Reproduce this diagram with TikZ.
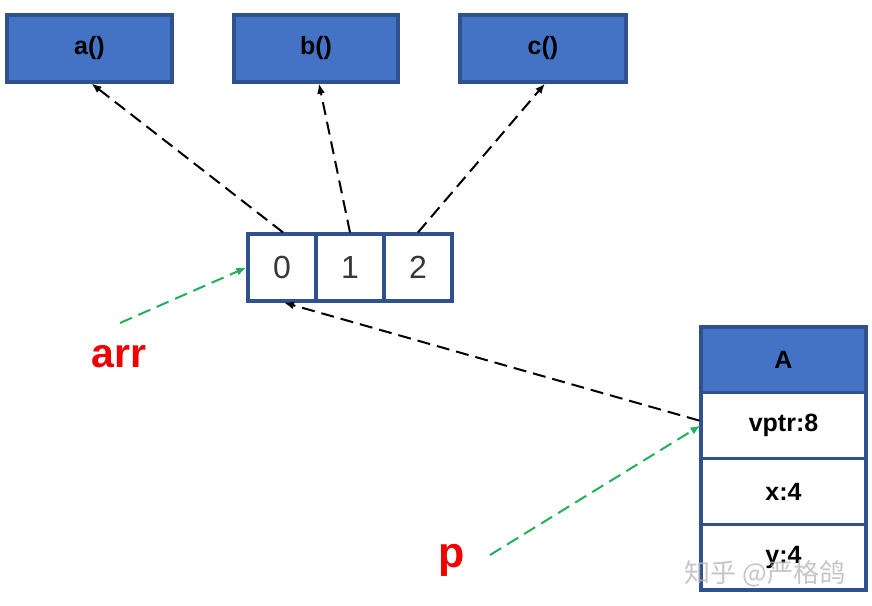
\documentclass[tikz,border=0pt]{standalone}
\usepackage{fontspec}
\setmainfont{Liberation Sans}
\newfontfamily\cjkfont{Noto Sans CJK SC}
\usetikzlibrary{arrows.meta}
\definecolor{boxblue}{HTML}{4472C4}
\definecolor{boxedge}{HTML}{2F528F}
\definecolor{ptrgreen}{HTML}{1FB25A}
\definecolor{labred}{HTML}{F00000}
\begin{document}
\begin{tikzpicture}[x=1pt,y=-1pt,
  funcbox/.style={draw=boxedge,fill=boxblue,line width=3.2pt,minimum width=165pt,minimum height=67pt,inner sep=0pt,
    font=\fontsize{25}{29}\selectfont\bfseries},
  cellbox/.style={draw=boxedge,fill=white,line width=3.2pt,minimum width=68pt,minimum height=67pt,inner sep=0pt,
    font=\fontsize{32}{36}\selectfont,text=black!78},
  rowbox/.style={draw=boxedge,fill=white,line width=3.2pt,minimum width=165pt,minimum height=65.75pt,inner sep=0pt,
    font=\fontsize{25}{29}\selectfont\bfseries},
  headbox/.style={rowbox,fill=boxblue},
  blackptr/.style={draw=black,line width=2pt,dash pattern=on 13pt off 7pt,-{Latex[length=10pt,width=8pt]}},
  greenptr/.style={draw=ptrgreen,line width=2pt,dash pattern=on 13pt off 7pt,-{Latex[length=10pt,width=8pt]}},
  redlabel/.style={text=labred,font=\fontsize{41}{45}\selectfont\bfseries}]
\useasboundingbox (0,0) rectangle (872,605);
\fill[white] (0,0) rectangle (872,605);
% function boxes
\node[funcbox] (fa) at (89.5,48.5) {a()};
\node[funcbox,minimum width=164pt] (fb) at (316,48.5) {b()};
\node[funcbox,minimum width=166pt] (fc) at (543,48.5) {c()};
% vtable array
\node[cellbox] (c0) at (282,267.5) {0};
\node[cellbox] (c1) at (350,267.5) {1};
\node[cellbox] (c2) at (418,267.5) {2};
% object A
\node[headbox] (hA) at (783.5,359.9) {A};
\node[rowbox] (rv) at (783.5,425.6) {vptr:8};
\node[rowbox] (rx) at (783.5,491.4) {x:4};
\node[rowbox] (ry) at (783.5,557.1) {y:4};
% labels
\node[redlabel] (arr) at (119,357) {arr};
\node[redlabel,font=\fontsize{43}{47}\selectfont\bfseries] (p) at (452,560) {p};
\coordinate (arrS) at (120,323);
\coordinate (pS) at (490,555);
% connectors
\draw[blackptr] ([xshift=1pt]c0.north) -- ([xshift=2pt]fa.south);
\draw[blackptr] (c1.north) -- ([xshift=3pt]fb.south);
\draw[blackptr] (c2.north) -- ([xshift=2pt]fc.south);
\draw[blackptr] ([yshift=5pt]rv.west) -- ([xshift=2pt]c0.south);
\draw[greenptr] (arrS) -- (c0.west);
\draw[greenptr] (pS) -- ([xshift=1pt]rv.west);
% watermark
\node[text=black!28,font=\cjkfont\fontsize{26}{30}\selectfont,opacity=0.8,inner sep=0pt] (wm) at (765,574) {知乎 @严格鸽};
\end{tikzpicture}
\end{document}
